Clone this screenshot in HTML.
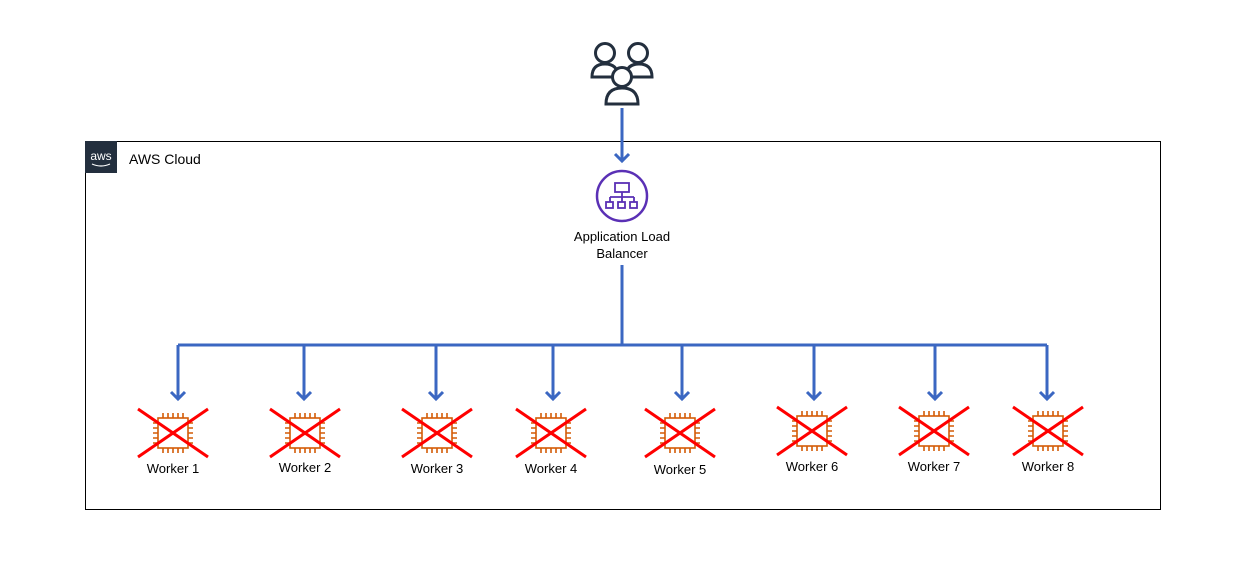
<!DOCTYPE html>
<html><head><meta charset="utf-8"><style>
body{margin:0;background:#fff;width:1257px;height:569px;overflow:hidden;font-family:"Liberation Sans",Arial,sans-serif}
</style></head><body>
<svg width="1257" height="569" viewBox="0 0 1257 569" xmlns="http://www.w3.org/2000/svg" font-family="Liberation Sans, Arial, sans-serif">
<defs>
<g id="chip" fill="none" stroke="#d45b07" stroke-width="1.6">
<rect x="-15" y="-15" width="30" height="30"/>
<path d="M-10,-15v-5M-5,-15v-5M0,-15v-5M5,-15v-5M10,-15v-5M-10,15v5M-5,15v5M0,15v5M5,15v5M10,15v5M-15,-10h-5M-15,-5h-5M-15,0h-5M-15,5h-5M-15,10h-5M15,-10h5M15,-5h5M15,0h5M15,5h5M15,10h5"/>
</g>
<g id="x" stroke="#ff0000" stroke-width="3"><path d="M-35,-24L35,24M35,-24L-35,24"/></g>
</defs>
<rect x="85.5" y="141.5" width="1075" height="368" fill="none" stroke="#000" stroke-width="1"/>
<rect x="85" y="141" width="32" height="32" fill="#232f3e"/>
<text x="101" y="160" fill="#fff" font-size="12" text-anchor="middle">aws</text>
<path d="M92,164 q9,4 18,0" stroke="#fff" fill="none" stroke-width="1.2"/>
<text x="129" y="164" font-size="14" fill="#000">AWS Cloud</text>
<!-- users -->
<g fill="none" stroke="#232f3e" stroke-width="3">
<circle cx="605" cy="53" r="9.5"/><path d="M592,77 q0,-13 13,-13 q13,0 13,13 z"/>
<circle cx="638" cy="53" r="9.5"/><path d="M626,77 q0,-13 13,-13 q13,0 13,13 z"/>
<path d="M606,104 q0,-16 16,-16 q16,0 16,16 z" fill="#fff"/>
<circle cx="622" cy="77" r="9.5" fill="#fff"/>
</g>
<g stroke="#3b67c2" stroke-width="3" fill="none">
<path d="M622,108V161M615,154l7,7l7,-7"/>
<path d="M622,265V345M178,345H1047"/>
</g>
<circle cx="622" cy="196" r="25" fill="none" stroke="#5a30b5" stroke-width="2.5"/>
<g fill="none" stroke="#5a30b5" stroke-width="1.8">
<rect x="615" y="183" width="14" height="9"/><path d="M622,192v5M610,197h24M610,197v5M622,197v5M634,197v5"/>
<rect x="606" y="202" width="7" height="6"/><rect x="618" y="202" width="7" height="6"/><rect x="630" y="202" width="7" height="6"/>
</g>
<text x="622" y="241" font-size="13" text-anchor="middle">Application Load</text>
<text x="622" y="258" font-size="13" text-anchor="middle">Balancer</text>
<g stroke="#3b67c2" stroke-width="3" fill="none">
<path d="M178,345V399M171,392l7,7l7,-7"/>
<path d="M304,345V399M297,392l7,7l7,-7"/>
<path d="M436,345V399M429,392l7,7l7,-7"/>
<path d="M553,345V399M546,392l7,7l7,-7"/>
<path d="M682,345V399M675,392l7,7l7,-7"/>
<path d="M814,345V399M807,392l7,7l7,-7"/>
<path d="M935,345V399M928,392l7,7l7,-7"/>
<path d="M1047,345V399M1040,392l7,7l7,-7"/>
</g>
<g font-size="13" text-anchor="middle">
<g transform="translate(173,433)"><use href="#chip"/><use href="#x"/><text y="40">Worker 1</text></g>
<g transform="translate(305,433)"><use href="#chip"/><use href="#x"/><text y="39">Worker 2</text></g>
<g transform="translate(437,433)"><use href="#chip"/><use href="#x"/><text y="40">Worker 3</text></g>
<g transform="translate(551,433)"><use href="#chip"/><use href="#x"/><text y="40">Worker 4</text></g>
<g transform="translate(680,433)"><use href="#chip"/><use href="#x"/><text y="41">Worker 5</text></g>
<g transform="translate(812,431)"><use href="#chip"/><use href="#x"/><text y="40">Worker 6</text></g>
<g transform="translate(934,431)"><use href="#chip"/><use href="#x"/><text y="40">Worker 7</text></g>
<g transform="translate(1048,431)"><use href="#chip"/><use href="#x"/><text y="40">Worker 8</text></g>
</g>
</svg>
</body></html>
